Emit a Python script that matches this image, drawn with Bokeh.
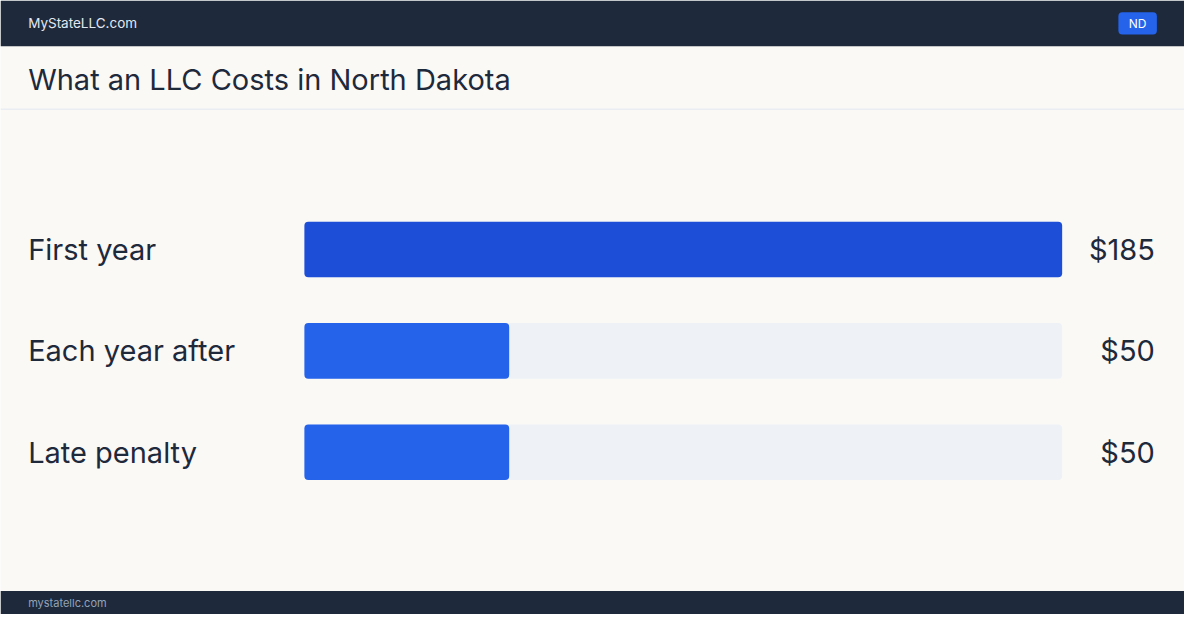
from bokeh.plotting import figure
from bokeh.models import Range1d
from bokeh.core.properties import value
from bokeh.embed import file_html
from bokeh.resources import INLINE

# ---- data ----
categories = ["First year", "Each year after", "Late penalty"]
costs = [185, 50, 50]
value_labels = ["$185", "$50", "$50"]
title_text = "What an LLC Costs in North Dakota"
brand = "MyStateLLC.com"
badge = "ND"
footer = "mystatellc.com"

W, H = 1184, 614
FONT = value("Inter")
DARK = "#1e293b"
BG = "#faf9f6"

p = figure(width=W, height=H, output_backend="svg", toolbar_location=None,
           x_range=Range1d(0, 1200), y_range=Range1d(630, 0),
           min_border=0, outline_line_color=None,
           background_fill_color=BG, border_fill_color=BG)
p.axis.visible = False
p.grid.visible = False

# scale for money: 0 -> 308px, max -> 1076px
track_l, track_r = 308, 1076
vmax = max(costs)
k = vmax / (track_r - track_l)
p.extra_x_ranges = {"usd": Range1d(-track_l * k, (1200 - track_l) * k)}

# header bar
p.quad(left=0, right=1200, top=0, bottom=47, fill_color=DARK, line_color=None)
p.text(x=[28], y=[23.5], text=[brand], text_font=FONT, text_font_size="13.5px",
       text_color="#e2e8f0", text_baseline="middle", text_align="left")
p.quad(left=1133, right=1172, top=12, bottom=35, fill_color="#2563eb",
       line_color=None, border_radius=4)
p.text(x=[1152.5], y=[24], text=[badge], text_font=FONT, text_font_size="12px",
       text_color="#ffffff", text_baseline="middle", text_align="center")

# title band
p.text(x=[28], y=[81], text=[title_text], text_font=FONT, text_font_size="29px",
       text_color=DARK, text_baseline="middle", text_align="left")
p.segment(x0=[0], x1=[1200], y0=[111.5], y1=[111.5], line_color="#e2e8f0", line_width=1)

# bars
ys = [255.5 + 104 * i for i in range(len(categories))]
bar_colors = ["#1d4ed8" if c == vmax else "#2563eb" for c in costs]
p.hbar(y=ys, left=0, right=[vmax] * len(costs), height=57, x_range_name="usd",
       fill_color="#eef2f7", line_color=None, border_radius=4)
p.hbar(y=ys, left=0, right=costs, height=57, x_range_name="usd",
       fill_color=bar_colors, line_color=None, border_radius=4)

p.text(x=[28] * len(categories), y=ys, text=categories, text_font=FONT,
       text_font_size="29px", text_color=DARK, text_baseline="middle", text_align="left")
p.text(x=[1170] * len(categories), y=ys, text=value_labels, text_font=FONT,
       text_font_size="29px", text_color=DARK, text_baseline="middle", text_align="right")

# footer
p.quad(left=0, right=1200, top=606, bottom=630, fill_color=DARK, line_color=None)
p.text(x=[28], y=[618], text=[footer], text_font=FONT, text_font_size="11px",
       text_color="#94a3b8", text_baseline="middle", text_align="left")

open("out.html", "w").write(file_html(p, INLINE))
